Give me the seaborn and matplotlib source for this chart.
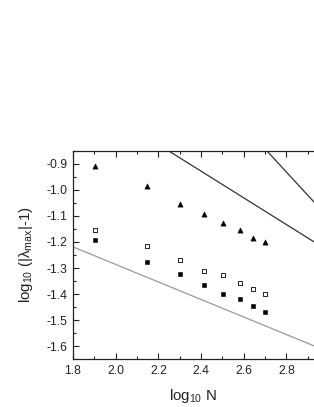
import numpy as np
import pandas as pd
import matplotlib
matplotlib.use("Agg")
import matplotlib.pyplot as plt
import seaborn as sns
from matplotlib.ticker import MultipleLocator, FormatStrFormatter

sns.set_theme(style="white")
plt.rcParams['font.family'] = ['Liberation Sans', 'DejaVu Sans']
plt.rcParams['mathtext.default'] = 'regular'

# log10 N for the system sizes
log_n = [1.903, 2.146, 2.301, 2.415, 2.505, 2.580, 2.643, 2.699]

# log10(|lambda_max| - 1) for three data sets
tri_filled = [-0.910, -0.987, -1.053, -1.092, -1.128, -1.155, -1.185, -1.200]
sq_open = [-1.155, -1.215, -1.270, -1.310, -1.325, -1.356, -1.380, -1.400]
sq_filled = [-1.193, -1.278, -1.324, -1.366, -1.399, -1.418, -1.445, -1.470]

# reference lines (endpoints in data coordinates)
line_a_x = [2.246, 3.0]
line_a_y = [-0.850, -1.236]
line_b_x = [2.707, 3.0]
line_b_y = [-0.850, -1.110]
line_c_x = [1.8, 3.0]
line_c_y = [-1.219, -1.622]

fig = plt.figure(figsize=(3.14, 4.07), dpi=100)
ax = fig.add_axes([0.2325, 0.117, 0.7675, 0.513])

sns.lineplot(x=line_a_x, y=line_a_y, ax=ax, color="#333333", linewidth=0.9)
sns.lineplot(x=line_b_x, y=line_b_y, ax=ax, color="#333333", linewidth=0.9)
sns.lineplot(x=line_c_x, y=line_c_y, ax=ax, color="#999999", linewidth=0.9)

sns.scatterplot(x=log_n, y=tri_filled, ax=ax, marker="^", s=14,
                color="black", edgecolor="black", linewidth=0.4)
sns.scatterplot(x=log_n, y=sq_open, ax=ax, marker="s", s=10,
                facecolor="white", edgecolor="black", linewidth=0.6)
sns.scatterplot(x=log_n, y=sq_filled, ax=ax, marker="s", s=11,
                color="black", edgecolor="black", linewidth=0.4)

ax.set_xlim(1.8, 2.929)
ax.set_ylim(-1.65, -0.85)
ax.xaxis.set_major_locator(MultipleLocator(0.2))
ax.xaxis.set_minor_locator(MultipleLocator(0.1))
ax.yaxis.set_major_locator(MultipleLocator(0.1))
ax.yaxis.set_minor_locator(MultipleLocator(0.05))
ax.xaxis.set_major_formatter(FormatStrFormatter('%.1f'))
ax.yaxis.set_major_formatter(FormatStrFormatter('%.1f'))

ax.tick_params(which='both', direction='in', top=True, bottom=True,
               left=True, right=False, colors='#222222', labelsize=8.8,
               width=0.8)
ax.tick_params(which='major', length=4, pad=4)
ax.tick_params(which='minor', length=2)
for sp in ax.spines.values():
    sp.set_color('#222222')
    sp.set_linewidth(0.9)
ax.spines['right'].set_visible(False)

ax.set_xlabel(r"log$_{10}$ N", fontsize=10.8, color='#222222', labelpad=7)
ax.set_ylabel(r"log$_{10}$ (|$\lambda_{max}$|-1)", fontsize=10.8,
              color='#222222', labelpad=8)

fig.savefig("out.png", dpi=100)
